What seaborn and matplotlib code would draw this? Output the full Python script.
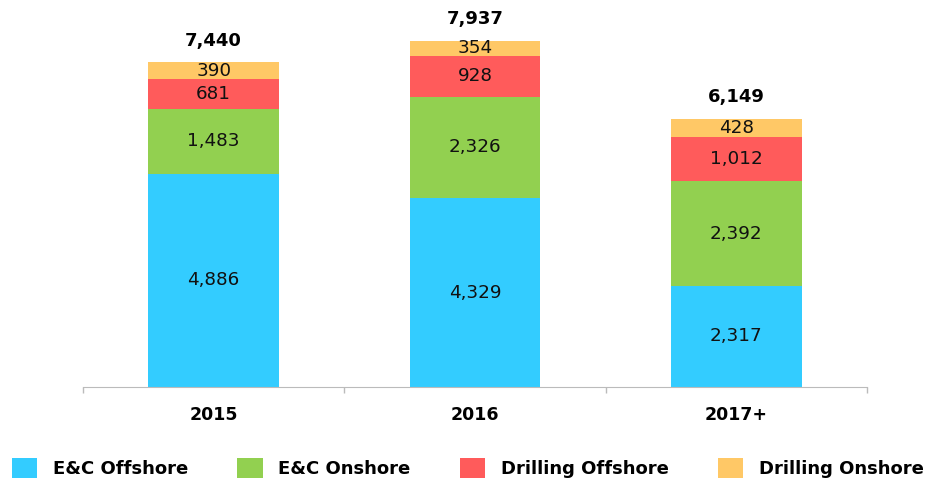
import matplotlib.pyplot as plt
import numpy as np
import pandas as pd
import seaborn as sns
from matplotlib.patches import Patch

# Data
years = ["2015", "2016", "2017+"]
ec_offshore = [4886, 4329, 2317]
ec_onshore = [1483, 2326, 2392]
drill_offshore = [681, 928, 1012]
drill_onshore = [390, 354, 428]

series = ["E&C Offshore", "E&C Onshore", "Drilling Offshore", "Drilling Onshore"]
colors = ["#33CCFF", "#92D050", "#FF5B5B", "#FFC866"]

df = pd.DataFrame({"year": years, "E&C Offshore": ec_offshore, "E&C Onshore": ec_onshore,
                   "Drilling Offshore": drill_offshore, "Drilling Onshore": drill_onshore})
cum = df[series].cumsum(axis=1)
totals = cum[series[-1]]

sns.set_style("white")
plt.rcParams["font.family"] = ["DejaVu Sans"]

fig = plt.figure(figsize=(9.3, 4.82), dpi=100)
ax = fig.add_axes([83 / 930, 95 / 482, 784 / 930, 371 / 482])

# stacked bars: draw cumulative sums from the top segment down
for name, color in reversed(list(zip(series, colors))):
    sns.barplot(x=df["year"], y=cum[name], color=color, width=0.5, ax=ax,
                saturation=1, linewidth=0)

# segment labels
for i in range(len(years)):
    base = 0
    for name in series:
        v = df.loc[i, name]
        ax.text(i, base + v / 2, f"{v:,}", ha="center", va="center", fontsize=13.2, color="#111111")
        base += v
    ax.text(i, totals[i] + 280, f"{totals[i]:,}", ha="center", va="bottom",
            fontsize=13, fontweight="bold", color="black")

ax.set_xlim(-0.5, 2.5)
ax.set_ylim(0, 8500)
ax.set_xlabel("")
ax.set_ylabel("")
ax.set_yticks([])
for s in ["top", "right", "left"]:
    ax.spines[s].set_visible(False)
ax.spines["bottom"].set_color("#BBBBBB")
ax.set_xticks([0, 1, 2])
ax.set_xticklabels(years, fontsize=12.5, fontweight="bold", color="black")
ax.tick_params(axis="x", which="major", bottom=False, length=0, pad=14)
ax.set_xticks([-0.5, 0.5, 1.5, 2.5], minor=True)
ax.tick_params(axis="x", which="minor", bottom=True, length=4, width=1, color="#BBBBBB")

handles = [Patch(facecolor=c, edgecolor="none", label=n) for n, c in zip(series, colors)]
leg = fig.legend(handles=handles, loc="center", bbox_to_anchor=(0.503, 0.029), ncol=4, frameon=False,
                 prop={"size": 13, "weight": "bold"}, handlelength=1.4, handleheight=1.4,
                 handletextpad=0.85, columnspacing=2.75)
for t in leg.get_texts():
    t.set_color("black")

fig.savefig("out.png", dpi=100)
